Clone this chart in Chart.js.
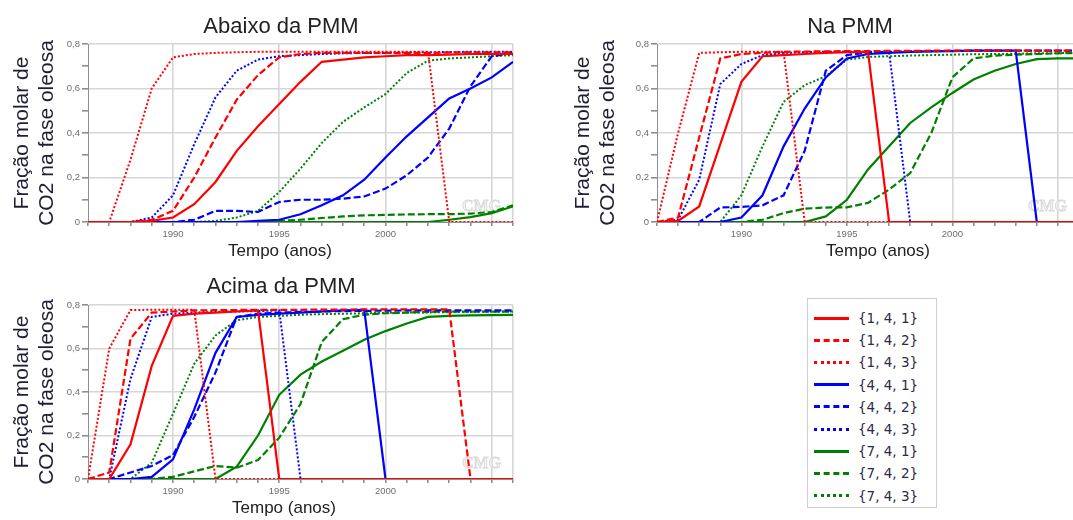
<!DOCTYPE html>
<html>
<head>
<meta charset="utf-8">
<script src="https://cdn.jsdelivr.net/npm/chart.js@4.4.0/dist/chart.umd.min.js"></script>
<style>
  html, body { margin: 0; padding: 0; background: #fff; overflow: hidden; }
  body { width: 1073px; height: 520px; position: relative; }
  .panel { position: absolute; }
  #legend {
    position: absolute; left: 807px; top: 298px; width: 130px; height: 210px;
    border: 1px solid #cfcfcf; box-sizing: border-box; padding-top: 8px;
    font-family: "DejaVu Sans", sans-serif; font-size: 13.5px; color: #2b2b45;
  }
  #legend .row { height: 22.2px; display: flex; align-items: center; }
  #legend .swatch { width: 35px; height: 0; margin-left: 6px; margin-right: 9px; }
</style>
</head>
<body>
<div class="panel" style="left:0;top:0"><canvas id="abaixo" width="540" height="262"></canvas></div>
<div class="panel" style="left:560px;top:0"><canvas id="na" width="540" height="262"></canvas></div>
<div class="panel" style="left:0;top:261px"><canvas id="acima" width="540" height="259"></canvas></div>
<div id="legend"></div>
<script>
(function () {
  'use strict';

  var years = [1986, 1987, 1988, 1989, 1990, 1991, 1992, 1993, 1994, 1995, 1996,
               1997, 1998, 1999, 2000, 2001, 2002, 2003, 2004, 2005, 2006];
  var seriesNames = ['{1, 4, 1}', '{1, 4, 2}', '{1, 4, 3}',
                     '{4, 4, 1}', '{4, 4, 2}', '{4, 4, 3}',
                     '{7, 4, 1}', '{7, 4, 2}', '{7, 4, 3}'];
  var seriesColors = ['#ff0000', '#ff0000', '#ff0000',
                      '#0000ff', '#0000ff', '#0000ff',
                      '#008000', '#008000', '#008000'];
  var seriesStyles = ['solid', 'dashed', 'dotted',
                      'solid', 'dashed', 'dotted',
                      'solid', 'dashed', 'dotted'];

  // Abaixo da PMM
  var abaixo141 = [0, 0, 0, 0.005, 0.02, 0.08, 0.18, 0.32, 0.43, 0.53, 0.63, 0.72, 0.73, 0.74, 0.745, 0.75, 0.75, 0.752, 0.755, 0.755, 0.755];
  var abaixo142 = [0, 0, 0, 0.01, 0.05, 0.2, 0.38, 0.55, 0.66, 0.74, 0.755, 0.76, 0.76, 0.76, 0.76, 0.76, 0.76, 0.762, 0.762, 0.762, 0.762];
  var abaixo143 = [0, 0, 0.28, 0.6, 0.74, 0.755, 0.76, 0.763, 0.765, 0.765, 0.765, 0.765, 0.765, 0.765, 0.765, 0.765, 0.765, 0, 0, 0, 0];
  var abaixo441 = [0, 0, 0, 0, 0, 0, 0, 0, 0.005, 0.01, 0.035, 0.075, 0.12, 0.19, 0.29, 0.385, 0.47, 0.555, 0.6, 0.65, 0.72];
  var abaixo442 = [0, 0, 0, 0, 0, 0.01, 0.05, 0.05, 0.045, 0.09, 0.1, 0.1, 0.105, 0.115, 0.15, 0.21, 0.29, 0.42, 0.61, 0.745, 0.76];
  var abaixo443 = [0, 0, 0, 0.02, 0.12, 0.35, 0.56, 0.68, 0.73, 0.745, 0.75, 0.755, 0.758, 0.76, 0.76, 0.762, 0.763, 0.764, 0.765, 0.765, 0.765];
  var abaixo741 = [0, 0, 0, 0, 0, 0, 0, 0, 0, 0, 0, 0, 0, 0, 0, 0, 0, 0.01, 0.022, 0.04, 0.07];
  var abaixo742 = [0, 0, 0, 0, 0, 0, 0, 0, 0, 0.005, 0.01, 0.018, 0.025, 0.03, 0.032, 0.034, 0.035, 0.035, 0.038, 0.045, 0.075];
  var abaixo743 = [0, 0, 0, 0, 0, 0, 0.005, 0.02, 0.05, 0.135, 0.24, 0.355, 0.45, 0.515, 0.575, 0.67, 0.725, 0.735, 0.74, 0.745, 0.75];

  // Na PMM
  var na141 = [0, 0.005, 0.07, 0.35, 0.63, 0.745, 0.75, 0.755, 0.76, 0.763, 0.765, 0, 0, 0, 0, 0, 0, 0, 0, 0, 0];
  var na142 = [0, 0.02, 0.38, 0.735, 0.755, 0.76, 0.765, 0.766, 0.767, 0.768, 0.768, 0.769, 0.769, 0.77, 0.77, 0.77, 0.77, 0.77, 0.77, 0.77, 0.77];
  var na143 = [0, 0.4, 0.76, 0.763, 0.765, 0.765, 0.765, 0, 0, 0, 0, 0, 0, 0, 0, 0, 0, 0, 0, 0, 0];
  var na441 = [0, 0, 0, 0, 0.02, 0.12, 0.34, 0.51, 0.65, 0.735, 0.755, 0.76, 0.765, 0.767, 0.768, 0.77, 0.77, 0.77, 0, 0, 0];
  var na442 = [0, 0, 0, 0.065, 0.068, 0.075, 0.12, 0.32, 0.68, 0.75, 0.762, 0.765, 0.767, 0.768, 0.769, 0.77, 0.77, 0.77, 0.77, 0.77, 0.77];
  var na443 = [0, 0.01, 0.19, 0.62, 0.71, 0.75, 0.76, 0.763, 0.765, 0.765, 0.765, 0.765, 0, 0, 0, 0, 0, 0, 0, 0, 0];
  var na741 = [0, 0, 0, 0, 0, 0, 0, 0, 0.025, 0.1, 0.236, 0.34, 0.445, 0.515, 0.58, 0.64, 0.68, 0.71, 0.732, 0.735, 0.735];
  var na742 = [0, 0, 0, 0, 0, 0.01, 0.04, 0.06, 0.065, 0.066, 0.086, 0.146, 0.22, 0.4, 0.65, 0.735, 0.748, 0.752, 0.755, 0.758, 0.76];
  var na743 = [0, 0, 0, 0, 0.12, 0.34, 0.54, 0.615, 0.655, 0.73, 0.742, 0.745, 0.748, 0.75, 0.752, 0.754, 0.755, 0.756, 0.758, 0.759, 0.76];

  // Acima da PMM
  var acima141 = [0, 0, 0.16, 0.52, 0.75, 0.76, 0.765, 0.77, 0.775, 0, 0, 0, 0, 0, 0, 0, 0, 0, 0, 0, 0];
  var acima142 = [0, 0.03, 0.645, 0.765, 0.77, 0.775, 0.776, 0.777, 0.778, 0.778, 0.778, 0.779, 0.779, 0.78, 0.78, 0.78, 0.78, 0.78, 0, 0, 0];
  var acima143 = [0, 0.6, 0.777, 0.778, 0.778, 0.778, 0, 0, 0, 0, 0, 0, 0, 0, 0, 0, 0, 0, 0, 0, 0];
  var acima441 = [0, 0, 0, 0.01, 0.09, 0.32, 0.58, 0.745, 0.755, 0.76, 0.765, 0.77, 0.775, 0.778, 0, 0, 0, 0, 0, 0, 0];
  var acima442 = [0, 0, 0.03, 0.06, 0.11, 0.285, 0.49, 0.745, 0.76, 0.765, 0.768, 0.77, 0.772, 0.773, 0.774, 0.775, 0.775, 0.775, 0.775, 0.775, 0.775];
  var acima443 = [0, 0, 0.46, 0.745, 0.76, 0.765, 0.768, 0.77, 0.772, 0.775, 0, 0, 0, 0, 0, 0, 0, 0, 0, 0, 0];
  var acima741 = [0, 0, 0, 0, 0, 0, 0, 0.057, 0.2, 0.387, 0.48, 0.54, 0.59, 0.64, 0.68, 0.715, 0.745, 0.75, 0.752, 0.753, 0.755];
  var acima742 = [0, 0, 0, 0, 0.01, 0.035, 0.06, 0.052, 0.087, 0.19, 0.345, 0.63, 0.735, 0.755, 0.762, 0.765, 0.768, 0.77, 0.77, 0.77, 0.77];
  var acima743 = [0, 0, 0, 0.075, 0.3, 0.53, 0.66, 0.73, 0.745, 0.75, 0.755, 0.758, 0.76, 0.762, 0.764, 0.765, 0.766, 0.767, 0.768, 0.769, 0.77];

  var dashFor = { solid: [], dashed: [7, 3], dotted: [2, 2] };
  var gridGray = '#d6d6d6';
  var axisGray = '#8f8f8f';

  function makeDatasets(list) {
    return list.map(function (vals, i) {
      return {
        label: seriesNames[i],
        data: vals.map(function (v, k) { return { x: years[k], y: v }; }),
        borderColor: seriesColors[i],
        borderDash: dashFor[seriesStyles[i]],
        borderWidth: seriesStyles[i] === 'dotted' ? 2 : 2.2,
        pointRadius: 0,
        tension: 0,
        fill: false
      };
    });
  }

  // headings, x axis title and the CMG mark
  var captions = {
    id: 'captions',
    beforeDatasetsDraw: function (chart) {
      var a = chart.chartArea, ctx = chart.ctx;
      ctx.save();
      ctx.font = 'bold 16px "Liberation Serif", serif';
      ctx.textAlign = 'right';
      ctx.textBaseline = 'alphabetic';
      ctx.fillStyle = '#f0f0f0';
      ctx.strokeStyle = '#d8d8d8';
      ctx.lineWidth = 0.8;
      ctx.fillText('CMG', a.right - 12, a.bottom - 11);
      ctx.strokeText('CMG', a.right - 12, a.bottom - 11);
      ctx.restore();
    },
    afterDraw: function (chart, args, opts) {
      var ctx = chart.ctx;
      ctx.save();
      ctx.textAlign = 'center';
      ctx.textBaseline = 'alphabetic';
      ctx.fillStyle = '#222222';
      ctx.font = '22px "Liberation Sans", Arial, sans-serif';
      ctx.fillText(opts.heading, opts.headingX, opts.headingY);
      ctx.font = '17px "Liberation Sans", Arial, sans-serif';
      ctx.fillText('Tempo (anos)', opts.xTitleX, opts.xTitleY);
      ctx.restore();
    }
  };

  function makeChart(id, list, cfg) {
    var ctx = document.getElementById(id).getContext('2d');
    return new Chart(ctx, {
      type: 'line',
      data: { datasets: makeDatasets(list) },
      plugins: [captions],
      options: {
        responsive: false,
        devicePixelRatio: 1,
        animation: false,
        events: [],
        layout: { padding: { top: 44, right: cfg.padRight, bottom: 0, left: 0 } },
        plugins: {
          legend: { display: false },
          tooltip: { enabled: false },
          captions: cfg.captions
        },
        scales: {
          x: {
            type: 'linear',
            min: 1986,
            max: 2006,
            afterFit: function (s) { s.height = cfg.xHeight; },
            ticks: {
              stepSize: 1,
              autoSkip: false,
              maxRotation: 0,
              minRotation: 0,
              padding: 3,
              color: '#6e6e6e',
              font: { family: '"Liberation Sans", Arial, sans-serif', size: 9.5 },
              callback: function (v) { return (v % 5 === 0 && v < 2005) ? String(v) : ''; }
            },
            grid: {
              color: function (c) {
                var v = c.tick && c.tick.value;
                return (v % 5 === 0 || v === 2006) ? gridGray : 'rgba(0,0,0,0)';
              },
              lineWidth: 1.6,
              tickColor: axisGray,
              tickLength: 4
            },
            border: { display: true, color: axisGray, width: 1 }
          },
          y: {
            type: 'linear',
            min: 0,
            max: 0.8,
            afterFit: function (s) { s.width = cfg.yWidth; },
            ticks: {
              stepSize: 0.1,
              padding: 2,
              color: '#6e6e6e',
              font: { family: '"Liberation Sans", Arial, sans-serif', size: 9.5 },
              callback: function (v) {
                var t = Math.round(v * 10);
                if (t % 2) return '';
                return t === 0 ? '0' : (t / 10).toFixed(1).replace('.', ',');
              }
            },
            grid: {
              color: function (c) {
                var t = Math.round((c.tick ? c.tick.value : 0) * 10);
                return t % 2 ? 'rgba(0,0,0,0)' : gridGray;
              },
              lineWidth: 1.6,
              tickColor: axisGray,
              tickLength: 6
            },
            border: { display: true, color: axisGray, width: 1 },
            title: {
              display: true,
              text: ['Fração molar de', 'CO2 na fase oleosa'],
              color: '#1f1f33',
              font: { family: '"Liberation Sans", Arial, sans-serif', size: 21, lineHeight: 1.2 },
              padding: { top: cfg.titlePad, bottom: 0 }
            }
          }
        }
      }
    });
  }

  makeChart('abaixo',
    [abaixo141, abaixo142, abaixo143, abaixo441, abaixo442, abaixo443, abaixo741, abaixo742, abaixo743],
    { padRight: 27, xHeight: 40, yWidth: 88, titlePad: 9.5,
      captions: { heading: 'Abaixo da PMM', headingX: 281, headingY: 33, xTitleX: 280, xTitleY: 256 } });

  makeChart('na',
    [na141, na142, na143, na441, na442, na443, na741, na742, na743],
    { padRight: 21, xHeight: 40, yWidth: 97, titlePad: 10.5,
      captions: { heading: 'Na PMM', headingX: 290, headingY: 33, xTitleX: 318, xTitleY: 256 } });

  makeChart('acima',
    [acima141, acima142, acima143, acima441, acima442, acima443, acima741, acima742, acima743],
    { padRight: 27, xHeight: 41, yWidth: 88, titlePad: 9.5,
      captions: { heading: 'Acima da PMM', headingX: 281, headingY: 32, xTitleX: 284, xTitleY: 252 } });

  // legend box
  var legend = document.getElementById('legend');
  seriesNames.forEach(function (name, i) {
    var row = document.createElement('div');
    row.className = 'row';
    var sw = document.createElement('span');
    sw.className = 'swatch';
    sw.style.borderTop = '3px ' + seriesStyles[i] + ' ' + seriesColors[i];
    var txt = document.createElement('span');
    txt.textContent = name;
    row.appendChild(sw);
    row.appendChild(txt);
    legend.appendChild(row);
  });
})();
</script>
</body>
</html>
